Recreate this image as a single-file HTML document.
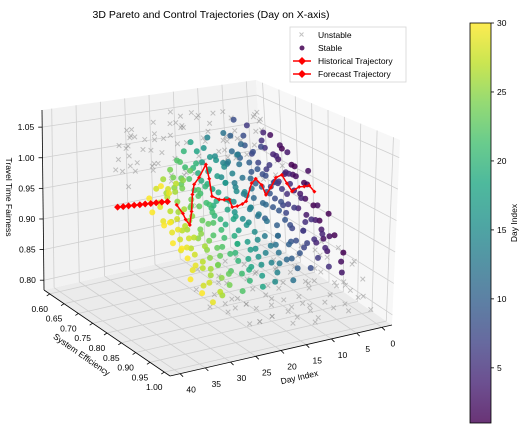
<!DOCTYPE html>
<html><head><meta charset="utf-8"><style>
html,body{margin:0;padding:0;background:#fff;}
svg{display:block;font-family:"Liberation Sans",sans-serif;}
</style></head><body>
<svg id="chart" width="526" height="434" viewBox="0 0 526 434" xmlns="http://www.w3.org/2000/svg">
<defs>
<linearGradient id="vir" x1="0" y1="1" x2="0" y2="0">
<stop offset="0" stop-color="#440154"/><stop offset="0.1" stop-color="#482475"/><stop offset="0.2" stop-color="#414487"/><stop offset="0.3" stop-color="#355f8d"/><stop offset="0.4" stop-color="#2a788e"/><stop offset="0.5" stop-color="#21918c"/><stop offset="0.6" stop-color="#22a884"/><stop offset="0.7" stop-color="#44bf70"/><stop offset="0.8" stop-color="#7ad151"/><stop offset="0.9" stop-color="#bddf26"/><stop offset="1" stop-color="#fde725"/>
</linearGradient>
</defs>
<text x="211" y="18" font-size="10.5" text-anchor="middle" fill="#000">3D Pareto and Control Trajectories (Day on X-axis)</text>
<g id="panes"></g>
<g id="grid"></g>
<g id="ticks"></g>
<g id="unstable"></g>
<g id="stable"></g>
<g id="traj"></g>
<text transform="translate(6,197) rotate(90)" font-size="8.5" text-anchor="middle" fill="#000">Travel Time Fairness</text>
<text transform="translate(80,357) rotate(35)" font-size="8.5" text-anchor="middle" fill="#000">System Efficiency</text>
<text transform="translate(300,380) rotate(-13)" font-size="8.5" text-anchor="middle" fill="#000">Day Index</text>
<g>
<rect x="290" y="27" width="116" height="55" fill="#fff" stroke="#d6d6d6" stroke-width="0.8"/>
<g><path d="M299.5,32.5 l4,4 M303.5,32.5 l-4,4" stroke="#999" stroke-width="1" opacity="0.6"/><text x="318" y="38" font-size="8.5">Unstable</text></g>
<g><circle cx="302" cy="48" r="2.5" fill="#440154" opacity="0.85"/><text x="318" y="51" font-size="8.5">Stable</text></g>
<g><line x1="293" y1="61" x2="311" y2="61" stroke="red" stroke-width="1.5"/><path d="M302,57 l4,4 -4,4 -4,-4z" fill="red"/><text x="318" y="64" font-size="8.5">Historical Trajectory</text></g>
<g><line x1="293" y1="74" x2="311" y2="74" stroke="red" stroke-width="1.5"/><path d="M302,70 l4,4 -4,4 -4,-4z" fill="red"/><text x="318" y="77" font-size="8.5">Forecast Trajectory</text></g>
</g>
<g>
<rect x="470" y="23" width="21" height="400" fill="url(#vir)" opacity="0.8"/>
<rect x="470" y="23" width="21" height="400" fill="none" stroke="#000" stroke-width="0.8"/>
<g id="cbticks"></g>
<text transform="translate(517,223) rotate(-90)" font-size="8.5" text-anchor="middle">Day Index</text>
</g>
</svg>
<script>
const dayTicks=[0,5,10,15,20,25,30,35,40];
const effTicks=[0.60,0.65,0.70,0.75,0.80,0.85,0.90,0.95,1.00];
const fairTicks=[0.80,0.85,0.90,0.95,1.00,1.05];
const cbTicks=[5,10,15,20,25,30];
const histDay=[0,1,2,3,4,5,6,7,8,9,10,11,12,13,14,15,16,17,18,19,20,21,22,23,24,25,26,27,28,29,30];
const histEff=[.787,.787,.787,.787,.78,.78,.78,.777,.777,.777,.78,.777,.78,.778,.782,.782,.782,.789,.789,.789,.782,.79,.796,.79,.79,.801,.815,.826,.829,.837,.833];
const histFair=[.938,.950,.950,.951,.943,.958,.974,.970,.955,.944,.963,.974,.969,.940,.938,.936,.936,.952,.953,.955,.960,.992,1.018,.997,.987,.975,.953,.936,.947,.960,.974];
const fcDay=[31,32,33,34,35,36,37,38,39,40];
const fcEff=[.819,.817,.815,.814,.812,.811,.809,.807,.806,.804];
const fcFair=[.977,.977,.977,.977,.977,.977,.977,.977,.977,.977];
const stDay=[1,1,1,1,1,1,2,2,2,2,2,2,3,3,3,3,3,3,4,4,4,4,4,4,5,5,5,5,5,5,6,6,6,6,6,6,7,7,7,7,7,7,8,8,8,8,8,8,9,9,9,9,9,9,10,10,10,10,10,10,11,11,11,11,11,11,12,12,12,12,12,12,13,13,13,13,13,13,14,14,14,14,14,14,15,15,15,15,15,15,16,16,16,16,16,16,17,17,17,17,17,17,18,18,18,18,18,18,19,19,19,19,19,19,20,20,20,20,20,20,21,21,21,21,21,21,22,22,22,22,22,22,23,23,23,23,23,23,24,24,24,24,24,24,25,25,25,25,25,25,26,26,26,26,26,26,27,27,27,27,27,27,28,28,28,28,28,28,29,29,29,29,29,29,30,30,30,30,30,30,
1,1,1,1,2,2,2,2,3,3,3,3,4,4,4,4,5,5,5,5,6,6,6,6,7,7,7,7,8,8,8,8,9,9,9,9,10,10,10,10,11,11,11,11,12,12,12,12,13,13,13,13,14,14,14,14,15,15,15,15,16,16,16,16,17,17,17,17,18,18,18,18,19,19,19,19,20,20,20,20,21,21,21,21,22,22,22,22,23,23,23,23,24,24,24,24,25,25,25,25,26,26,26,26,27,27,27,27,28,28,28,28,29,29,29,29,30,30,30,30];
const stEff=[.70,.78,.85,.90,.74,.82, .68,.76,.83,.91,.80,.87, .72,.79,.86,.93,.75,.84, .69,.77,.81,.89,.73,.88, .71,.75,.84,.92,.79,.86, .67,.74,.82,.90,.78,.85, .70,.77,.83,.88,.73,.80, .66,.76,.81,.91,.72,.86, .71,.79,.84,.89,.75,.82, .68,.74,.83,.90,.78,.87, .70,.76,.80,.88,.73,.85, .69,.78,.83,.92,.74,.86, .72,.77,.82,.89,.75,.84, .67,.75,.81,.90,.79,.86, .71,.78,.84,.91,.74,.82, .69,.76,.83,.88,.73,.86, .70,.79,.85,.90,.75,.81, .68,.77,.82,.92,.74,.87, .72,.75,.84,.89,.78,.85, .69,.78,.81,.91,.73,.86, .71,.76,.83,.90,.79,.84, .70,.77,.85,.92,.74,.82, .73,.79,.82,.89,.76,.86, .71,.78,.84,.91,.75,.87, .74,.80,.85,.90,.77,.83, .72,.79,.86,.92,.76,.88, .75,.81,.84,.93,.78,.87, .73,.80,.86,.91,.77,.84, .76,.82,.85,.94,.79,.88, .74,.81,.87,.92,.78,.85,
.73,.80,.87,.77, .71,.79,.85,.75, .74,.81,.88,.77, .72,.80,.86,.76, .70,.78,.87,.74, .73,.80,.85,.77, .72,.81,.87,.76, .69,.79,.84,.75, .73,.80,.86,.78, .71,.79,.88,.76, .72,.81,.85,.77, .70,.80,.87,.75, .74,.79,.86,.78, .72,.81,.88,.76, .73,.80,.85,.77, .71,.79,.87,.76, .72,.82,.86,.78, .70,.80,.88,.75, .73,.81,.85,.77, .72,.79,.87,.76, .74,.80,.86,.78, .71,.82,.88,.77, .73,.80,.85,.76, .72,.81,.87,.78, .75,.82,.86,.79, .73,.80,.88,.77, .76,.83,.87,.80, .74,.81,.89,.78, .77,.83,.87,.80, .75,.82,.88,.79];
const stFair=[.99,.95,.92,.87,.97,.90, 1.01,.96,.93,.86,.98,.89, .98,.94,.90,.85,1.00,.91, 1.02,.97,.94,.88,.99,.90, 1.00,.95,.91,.86,.96,.92, 1.03,.98,.93,.87,.95,.90, .99,.96,.90,.89,1.01,.93, 1.04,.97,.94,.86,1.00,.89, 1.01,.95,.92,.88,.98,.93, 1.02,.99,.91,.86,.96,.89, 1.00,.97,.94,.87,1.02,.90, 1.03,.96,.92,.85,.99,.89, .99,.95,.93,.87,1.01,.90, 1.02,.98,.94,.86,.96,.88, 1.00,.96,.91,.85,.99,.92, 1.01,.97,.92,.87,1.00,.89, .99,.95,.90,.86,.98,.93, 1.02,.96,.93,.85,.99,.88, .98,.97,.91,.87,.95,.90, 1.01,.94,.93,.86,1.00,.89, .99,.96,.92,.87,.95,.91, 1.00,.97,.90,.85,.98,.93, .98,.95,.93,.87,1.00,.89, .99,.96,.91,.86,.97,.88, .97,.94,.90,.87,.99,.92, .98,.95,.91,.85,.97,.88, .96,.93,.92,.86,.99,.89, .97,.94,.90,.87,.98,.92, .95,.93,.91,.85,.98,.89, .96,.94,.90,.86,.99,.91,
.97,.92,.89,.95, 1.00,.93,.88,.96, .96,.91,.87,.94, .99,.92,.88,.97, 1.01,.94,.89,.95, .97,.93,.90,.96, .98,.92,.88,.95, 1.02,.94,.91,.97, .97,.93,.89,.95, .99,.91,.87,.96, 1.00,.94,.90,.94, .98,.92,.88,.97, .96,.93,.89,.95, .99,.94,.87,.96, .97,.92,.90,.94, 1.00,.93,.88,.97, .98,.91,.89,.95, 1.01,.94,.87,.96, .97,.92,.90,.94, .99,.93,.88,.97, .96,.94,.89,.95, 1.00,.91,.87,.96, .97,.93,.90,.94, .98,.92,.88,.95, .95,.91,.89,.93, .96,.92,.87,.94, .94,.90,.88,.92, .95,.91,.86,.93, .93,.90,.88,.92, .94,.91,.87,.93];
const unDay=[0,2,3,5,6,8,9,10,12,13,14,15,16,17,18,19,20,21,22,23,24,25,26,27,28,29,30,1,4,7,11,14,17,20,23,26,29,3,8,12,16,19,22,25,28,6,10,13,18,21,24,27,30,2,9,15,20,25,
0,1,2,3,4,5,6,7,8,9,10,11,12,13,14,15,16,17,18,19,20,21,22,23,24,25,26,27,28,29,30,0,2,4,6,8,10,12,14,16,18,20,22,24,26,1,3,5,7,9,11,13,15,17,19,21,23,25,3,12,
1,4,7,10,13,16,19,22,25,28,2,5,8,11,14,17,20,23,26,29,3,6,9,12,15,18,21,24,27,30,
0,3,6,9,12,15,18,21,24,27,2,5,8,11,14,17,20,23,1,7,13,19,4,10,16,22];
const unEff=[.62,.65,.60,.68,.63,.70,.61,.66,.64,.69,.62,.67,.60,.65,.71,.63,.66,.61,.68,.64,.62,.67,.60,.65,.63,.61,.64,.70,.66,.62,.68,.64,.60,.69,.63,.66,.62,.71,.65,.61,.67,.63,.68,.60,.64,.72,.66,.62,.69,.61,.65,.63,.67,.70,.64,.60,.73,.75,
.95,.90,.97,.88,.93,.99,.91,.86,.96,.92,.89,.98,.94,.87,.95,.91,.99,.88,.93,.97,.90,.95,.86,.92,.98,.89,.94,.91,.87,.93,.90,.98,.92,.96,.89,.99,.94,.91,.97,.88,.95,.92,.98,.90,.93,.97,.93,.89,.96,.91,.99,.88,.94,.92,.97,.90,.95,.89,.86,.85,
.63,.66,.61,.67,.64,.62,.68,.65,.61,.66,.64,.60,.67,.63,.65,.62,.69,.64,.61,.66,.65,.62,.68,.63,.60,.66,.64,.67,.62,.65,
.92,.96,.89,.94,.98,.91,.95,.88,.93,.97,.90,.94,.87,.96,.92,.99,.89,.95,.93,.88,.97,.91,.96,.90,.94,.98];
const unFair=[1.00,1.03,.98,1.05,1.01,.99,1.04,.97,1.02,1.00,1.05,.98,1.03,1.01,.96,1.04,.99,1.02,.97,1.05,1.00,.98,1.03,.99,1.01,.97,1.02,.96,1.04,.99,1.02,.98,1.05,.97,1.00,1.03,.99,.95,1.01,1.04,.98,1.02,.96,1.03,1.00,.95,.99,1.04,.97,1.01,.98,1.03,.96,.97,1.00,1.02,.93,.92,
.84,.87,.82,.86,.83,.81,.85,.88,.82,.84,.86,.80,.83,.87,.82,.85,.81,.86,.84,.82,.86,.83,.88,.84,.82,.87,.83,.85,.88,.84,.86,.80,.83,.81,.85,.82,.84,.86,.81,.87,.83,.85,.82,.86,.84,.82,.85,.87,.83,.84,.81,.86,.83,.85,.82,.87,.84,.86,.88,.89,
1.02,.99,1.04,.98,1.01,1.03,.97,1.00,1.02,.98,1.04,.99,1.01,1.03,.97,1.00,1.05,.98,1.02,.99,1.01,1.03,.98,1.00,1.04,.97,1.02,.99,1.01,.98,
.86,.83,.88,.85,.82,.87,.84,.89,.83,.86,.88,.84,.87,.82,.85,.83,.88,.84,.86,.89,.83,.87,.84,.88,.85,.82];

const DMIN=-2,DMAX=42,EMIN=0.58,EMAX=1.02,ZMIN=0.784,ZMAX=1.078,CMIN=1,CMAX=30;
const NS='http://www.w3.org/2000/svg';
function bil(a,b,v00,v10,v11,v01){return (1-a)*(1-b)*v00+a*(1-b)*v10+a*b*v11+(1-a)*b*v01;}
function P(d,e,z){
  const a=(d-DMIN)/(DMAX-DMIN),b=(e-EMIN)/(EMAX-EMIN),c=(z-ZMIN)/(ZMAX-ZMIN);
  const fx=bil(a,b,266,44,170,392),fy=bil(a,b,239,290,376,325),H=bil(a,b,159,180,200,185),dx=bil(a,b,-10,-2,0,8);
  return [fx+c*dx,fy-c*H,a+b];
}
function el(tag,attrs,parent){const n=document.createElementNS(NS,tag);for(const k in attrs)n.setAttribute(k,attrs[k]);parent.appendChild(n);return n;}
const stops=[[68,1,84],[72,36,117],[65,68,135],[53,95,141],[42,120,142],[33,145,140],[34,168,132],[68,191,112],[122,209,81],[189,223,38],[253,231,37]];
function viridis(v){let t=Math.max(0,Math.min(1,(v-CMIN)/(CMAX-CMIN)))*10;const i=Math.min(9,Math.floor(t)),f=t-i;const c=stops[i].map((x,k)=>Math.round(x+(stops[i+1][k]-x)*f));return 'rgb('+c.join(',')+')';}
function pts(arr){return arr.map(p=>p[0].toFixed(1)+','+p[1].toFixed(1)).join(' ');}

const panes=document.getElementById('panes');
let pn=el('polygon',{points:pts([P(DMIN,EMIN,ZMIN),P(DMAX,EMIN,ZMIN),P(DMAX,EMAX,ZMIN),P(DMIN,EMAX,ZMIN)]),fill:'#ebebeb',stroke:'none'},panes);


pn=el('polygon',{points:pts([P(DMIN,EMIN,ZMIN),P(DMAX,EMIN,ZMIN),P(DMAX,EMIN,ZMAX),P(DMIN,EMIN,ZMAX)]),fill:'#f2f2f2',stroke:'none'},panes);


pn=el('polygon',{points:pts([P(DMIN,EMIN,ZMIN),P(DMIN,EMAX,ZMIN),P(DMIN,EMAX,ZMAX),P(DMIN,EMIN,ZMAX)]),fill:'#f7f7f7',stroke:'none'},panes);



const grid=document.getElementById('grid');
function gl(p1,p2,name){const l=el('line',{x1:p1[0],y1:p1[1],x2:p2[0],y2:p2[1],stroke:'#cfcfcf','stroke-width':0.8},grid);}
dayTicks.forEach(d=>{gl(P(d,EMIN,ZMIN),P(d,EMAX,ZMIN),'day-gridline');gl(P(d,EMIN,ZMIN),P(d,EMIN,ZMAX),'day-gridline');});
effTicks.forEach(e=>{gl(P(DMIN,e,ZMIN),P(DMAX,e,ZMIN),'eff-gridline');gl(P(DMIN,e,ZMIN),P(DMIN,e,ZMAX),'eff-gridline');});
fairTicks.forEach(z=>{gl(P(DMIN,EMIN,z),P(DMAX,EMIN,z),'fair-gridline');gl(P(DMIN,EMIN,z),P(DMIN,EMAX,z),'fair-gridline');});
function ax(p1,p2,name){const l=el('line',{x1:p1[0],y1:p1[1],x2:p2[0],y2:p2[1],stroke:'#000','stroke-width':0.8},grid);}
ax(P(DMAX,EMIN,ZMIN),P(DMAX,EMAX,ZMIN),'eff-axis-line');
ax(P(DMAX,EMAX,ZMIN),P(DMIN,EMAX,ZMIN),'day-axis-line');
ax(P(DMAX,EMIN,ZMIN),P(DMAX,EMIN,ZMAX),'fair-axis-line');

const tk=document.getElementById('ticks');
dayTicks.forEach(d=>{const p=P(d,EMAX,ZMIN);ax(p,[p[0]+3,p[1]+3],'day-tick');const t=el('text',{x:p[0]+11,y:p[1]+19,'font-size':8.5,'text-anchor':'middle'},tk);t.textContent=d;});
effTicks.forEach(e=>{const p=P(DMAX,e,ZMIN);ax(p,[p[0]-3,p[1]+2],'eff-tick');const t=el('text',{x:p[0]-10,y:p[1]+18,'font-size':8.5,'text-anchor':'middle'},tk);t.textContent=e.toFixed(2);});
fairTicks.forEach(z=>{const p=P(DMAX,EMIN,z);ax(p,[p[0]-4,p[1]],'fair-tick');const t=el('text',{x:p[0]-8,y:p[1]+3,'font-size':8.5,'text-anchor':'end'},tk);t.textContent=z.toFixed(2);});

const ug=document.getElementById('unstable');
const nU=Math.min(unDay.length,unEff.length,unFair.length);
let uArr=[];for(let i=0;i<nU;i++)uArr.push(P(unDay[i],unEff[i],unFair[i]));
uArr.sort((p,q)=>p[2]-q[2]);
uArr.forEach(p=>{const s=2.3;const m=el('path',{d:`M${p[0]-s},${p[1]-s}L${p[0]+s},${p[1]+s}M${p[0]+s},${p[1]-s}L${p[0]-s},${p[1]+s}`,stroke:'#8c8c8c','stroke-width':1,opacity:0.5},ug);

});

const sg=document.getElementById('stable');
const nS=Math.min(stDay.length,stEff.length,stFair.length);
let sArr=[];for(let i=0;i<nS;i++){const p=P(stDay[i],stEff[i],stFair[i]);p.push(stDay[i]);sArr.push(p);}
sArr.sort((p,q)=>p[2]-q[2]);
sArr.forEach(p=>{const c=el('circle',{cx:p[0],cy:p[1],r:3,fill:viridis(p[3]),opacity:0.85},sg);

});

const tg=document.getElementById('traj');
function traj(ds,es,zs,name,r){const pp=ds.map((d,i)=>P(d,es[i],zs[i]));
const l=el('polyline',{points:pts(pp),fill:'none',stroke:'red','stroke-width':1.5},tg);


pp.forEach(p=>{const m=el('path',{d:`M${p[0]},${p[1]-r}l${r},${r} ${-r},${r} ${-r},${-r}z`,fill:'red'},tg);

});}
traj(histDay,histEff,histFair,'historical-trajectory',2);
traj(fcDay,fcEff,fcFair,'forecast-trajectory',3.5);

const cb=document.getElementById('cbticks');
cbTicks.forEach(v=>{const y=423-(v-CMIN)/(CMAX-CMIN)*400;
const l=el('line',{x1:491,y1:y,x2:494,y2:y,stroke:'#000','stroke-width':0.8},cb);


const t=el('text',{x:497,y:y+3,'font-size':8.5},cb);t.textContent=v;

});
</script>
</body></html>
